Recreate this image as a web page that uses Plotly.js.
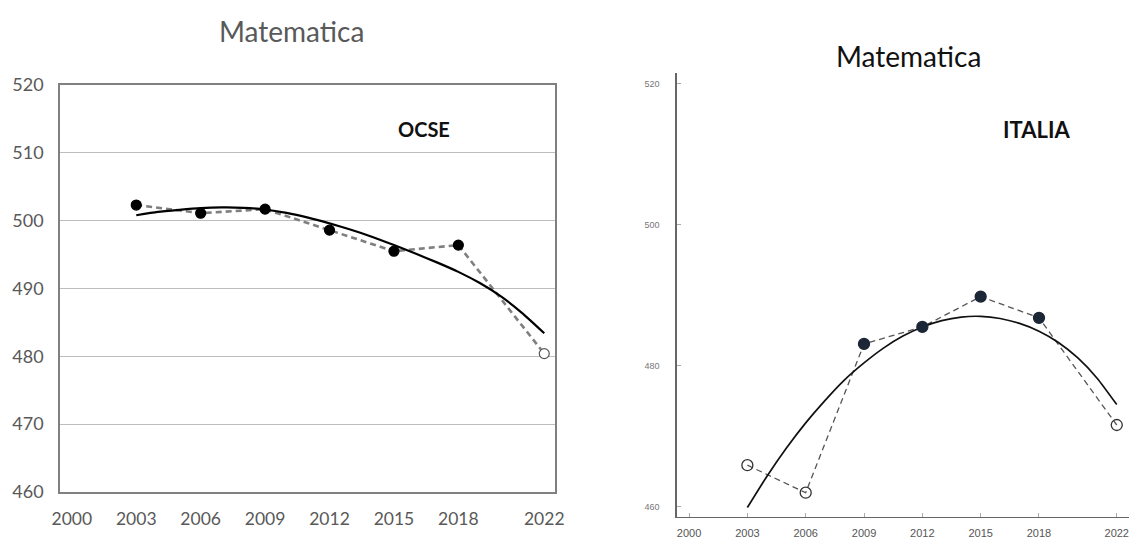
<!DOCTYPE html>
<html>
<head>
<meta charset="utf-8">
<script src="https://cdn.plot.ly/plotly-3.0.1.min.js"></script>
<style>html,body{margin:0;padding:0;background:#fff;}#chart{width:1129px;height:540px;}</style>
</head>
<body>
<div id="chart"></div>
<script>
// ---- data ----
const years = [2003, 2006, 2009, 2012, 2015, 2018, 2022];
const tickYears = [2000, 2003, 2006, 2009, 2012, 2015, 2018, 2022];
const tickLabels = ['2000', '2003', '2006', '2009', '2012', '2015', '2018', '2022'];

const ocseScores = [502.3, 501.1, 501.7, 498.6, 495.5, 496.4, 480.4];
const ocseOpenYears = [2022];
const ocseTrendYears = [2003, 2004, 2005, 2006, 2007, 2008, 2009, 2010, 2011, 2012, 2013, 2014, 2015, 2016, 2017, 2018, 2019, 2020, 2021, 2022];
const ocseTrendValues = [500.8, 501.3, 501.6, 501.85, 501.95, 501.9, 501.65, 501.15, 500.45, 499.6, 498.65, 497.6, 496.4, 495.15, 493.85, 492.45, 490.8, 488.8, 486.3, 483.4];

const italiaScores = [465.9, 462.0, 483.1, 485.5, 489.8, 486.8, 471.6];
const italiaOpenYears = [2003, 2006, 2022];
const italiaTrendYears = [2003, 2004, 2005, 2006, 2007, 2008, 2009, 2010, 2011, 2012, 2013, 2014, 2015, 2016, 2017, 2018, 2019, 2020, 2021, 2022];
const italiaTrendValues = [459.9, 464.3, 468.3, 471.9, 475.1, 478.0, 480.4, 482.5, 484.2, 485.5, 486.4, 486.9, 487.0, 486.7, 486.0, 484.9, 483.3, 481.1, 478.2, 474.5];

const leftYTicks = [460, 470, 480, 490, 500, 510, 520];
const rightYTicks = [460, 480, 500, 520];

// ---- build traces ----
const W = 1129, H = 540;
function isOpen(y, list) { return list.indexOf(y) >= 0; }

const traces = [
  {
    x: years, y: ocseScores, xaxis: 'x', yaxis: 'y', type: 'scatter', mode: 'lines',
    line: {color: '#7f7f7f', width: 2.6, dash: '6px,4px'}, hoverinfo: 'skip'
  },
  {
    x: ocseTrendYears, y: ocseTrendValues, xaxis: 'x', yaxis: 'y', type: 'scatter', mode: 'lines',
    line: {color: '#000', width: 2.2, shape: 'spline', smoothing: 0.5}
  },
  {
    x: years, y: ocseScores, xaxis: 'x', yaxis: 'y', type: 'scatter', mode: 'markers',
    marker: {
      size: 10,
      color: years.map(v => isOpen(v, ocseOpenYears) ? '#ffffff' : '#000000'),
      line: {color: years.map(v => isOpen(v, ocseOpenYears) ? '#555555' : '#000000'), width: 1.2}
    }
  },
  {
    x: years, y: italiaScores, xaxis: 'x2', yaxis: 'y2', type: 'scatter', mode: 'lines',
    line: {color: '#555', width: 1.3, dash: '6px,4px'}, hoverinfo: 'skip'
  },
  {
    x: italiaTrendYears, y: italiaTrendValues, xaxis: 'x2', yaxis: 'y2', type: 'scatter', mode: 'lines',
    line: {color: '#111', width: 1.7, shape: 'spline', smoothing: 0.5}
  },
  {
    x: years, y: italiaScores, xaxis: 'x2', yaxis: 'y2', type: 'scatter', mode: 'markers',
    marker: {
      size: 11,
      color: years.map(v => isOpen(v, italiaOpenYears) ? 'rgba(255,255,255,0)' : '#1b2636'),
      line: {color: years.map(v => isOpen(v, italiaOpenYears) ? '#333333' : '#1b2636'), width: 1.3}
    }
  }
];

const leftFont = 'Lato, "Open Sans", sans-serif';

const layout = {
  width: W, height: H,
  margin: {l: 0, r: 0, t: 0, b: 0},
  paper_bgcolor: '#ffffff', plot_bgcolor: 'rgba(0,0,0,0)',
  showlegend: false,
  xaxis: {
    domain: [60 / W, 555 / W], range: [1999.45, 2022.5],
    tickmode: 'array', tickvals: tickYears, ticktext: tickLabels,
    showgrid: false, zeroline: false,
    showline: true, linecolor: '#808080', linewidth: 1.8, mirror: true,
    ticks: '', ticklabelstandoff: 10,
    tickfont: {family: leftFont, size: 17.5, color: '#595959'}
  },
  yaxis: {
    domain: [(H - 492) / H, (H - 85) / H], range: [460, 520],
    tickmode: 'array', tickvals: leftYTicks,
    showgrid: true, gridcolor: '#bdbdbd', gridwidth: 1.2,
    zeroline: false,
    showline: true, linecolor: '#808080', linewidth: 1.8, mirror: true,
    ticks: '', ticklabelstandoff: 11,
    tickfont: {family: leftFont, size: 18, color: '#595959'}
  },
  xaxis2: {
    domain: [677 / W, 1], range: [1999.38, 2022.63], anchor: 'y2',
    tickmode: 'array', tickvals: tickYears, ticktext: tickLabels,
    showgrid: false, zeroline: false,
    showline: true, linecolor: '#666', linewidth: 1.6,
    ticks: 'inside', ticklen: 4, tickcolor: '#aaa', tickwidth: 1,
    ticklabelstandoff: 5,
    tickfont: {family: '"Liberation Sans", Arial, sans-serif', size: 11, color: '#555'}
  },
  yaxis2: {
    domain: [(H - 516.7) / H, (H - 73) / H], range: [458.6, 521.5], anchor: 'x2',
    tickmode: 'array', tickvals: rightYTicks,
    showgrid: false, zeroline: false,
    showline: true, linecolor: '#666', linewidth: 1.6,
    ticks: 'inside', ticklen: 4, tickcolor: '#aaa', tickwidth: 1,
    ticklabelstandoff: 14,
    tickfont: {family: '"Liberation Sans", Arial, sans-serif', size: 9, color: '#777'}
  },
  annotations: [
    {text: 'Matematica', xref: 'paper', yref: 'paper', x: 291 / W, y: (H - 31) / H,
     xanchor: 'center', yanchor: 'middle', showarrow: false,
     font: {family: leftFont, size: 28, color: '#595959'}},
    {text: 'OCSE', xref: 'paper', yref: 'paper', x: 424 / W, y: (H - 129) / H,
     xanchor: 'center', yanchor: 'middle', showarrow: false,
     font: {family: leftFont, size: 20, color: '#111', weight: 'bold'}},
    {text: 'Matematica', xref: 'paper', yref: 'paper', x: 908 / W, y: (H - 56) / H,
     xanchor: 'center', yanchor: 'middle', showarrow: false,
     font: {family: leftFont, size: 28, color: '#111'}},
    {text: 'ITALIA', xref: 'paper', yref: 'paper', x: 1036 / W, y: (H - 129) / H,
     xanchor: 'center', yanchor: 'middle', showarrow: false,
     font: {family: '"Liberation Sans Narrow", ' + leftFont, size: 22, color: '#111', weight: 'bold'}}
  ]
};

Plotly.newPlot('chart', traces, layout, {staticPlot: true, displayModeBar: false});
</script>
</body>
</html>
